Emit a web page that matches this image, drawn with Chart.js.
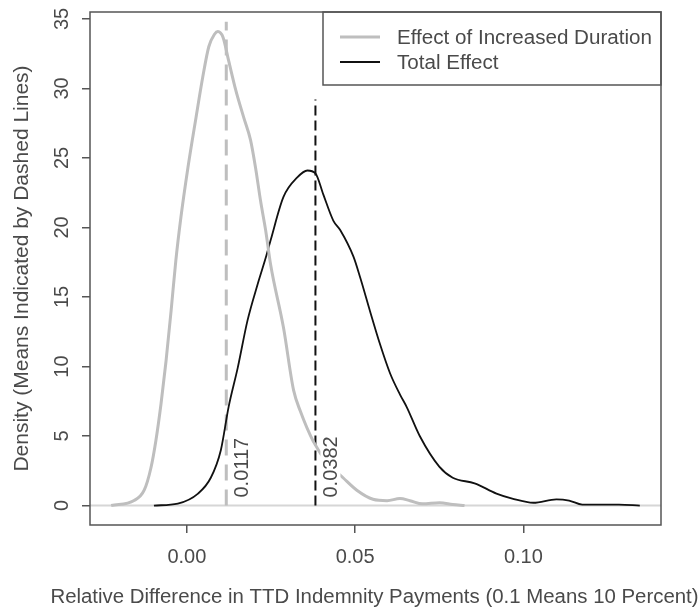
<!DOCTYPE html>
<html>
<head>
<meta charset="utf-8">
<script src="https://cdn.jsdelivr.net/npm/chart.js@4/dist/chart.umd.min.js"></script>
<style>
  body { margin: 0; background: #fff; }
  #wrap { width: 699px; height: 608px; }
</style>
</head>
<body>
<div id="wrap"><canvas id="density-chart"></canvas></div>
<script>
// density of the effect of increased duration (gray)
const durX = [-0.0225, -0.0157, -0.0127, -0.0107, -0.0092, -0.0077, -0.0062, -0.0047, -0.0033, -0.0018,
  0.0003, 0.0027, 0.0047, 0.0065, 0.0082, 0.0092, 0.0107, 0.0124, 0.0145, 0.0169,
  0.0189, 0.0204, 0.0219, 0.0234, 0.0249, 0.0287, 0.0317, 0.0337, 0.0376, 0.0420,
  0.0464, 0.0505, 0.0553, 0.0595, 0.0633, 0.0663, 0.0700, 0.0751, 0.0790, 0.0825];
const durY = [0, 0.36, 1.1, 2.7, 4.7, 7.3, 10.4, 14.0, 17.6, 20.7,
  24.3, 27.9, 30.8, 33.0, 33.9, 34.1, 33.7, 32.0, 29.9, 27.9,
  26.3, 24.3, 21.9, 19.8, 17.3, 12.8, 8.3, 6.8, 4.6, 3.0,
  2.0, 1.1, 0.45, 0.35, 0.5, 0.35, 0.12, 0.2, 0.08, 0];

// density of the total effect (black)
const totX = [-0.0098, -0.0027, 0.0033, 0.0071, 0.0101, 0.0124, 0.0151, 0.0180, 0.0210, 0.0234,
  0.0249, 0.0287, 0.0328, 0.0358, 0.0382, 0.0405, 0.0435, 0.0456, 0.0495, 0.0515,
  0.0544, 0.0574, 0.0604, 0.0633, 0.0653, 0.0692, 0.0750, 0.0790, 0.0855, 0.0920,
  0.0967, 0.1030, 0.1098, 0.1136, 0.1175, 0.1284, 0.1346];
const totY = [0, 0.14, 0.86, 2.0, 4.0, 7.1, 9.9, 13.3, 15.9, 17.8,
  19.1, 22.2, 23.6, 24.1, 23.9, 22.4, 20.5, 19.8, 17.9, 16.4,
  14.0, 11.6, 9.5, 8.0, 7.1, 5.0, 2.8, 2.0, 1.6, 0.86,
  0.5, 0.2, 0.45, 0.36, 0.07, 0.07, 0];

// means and the heights of the dashed lines
const means = [0.0117, 0.0382];
const meanTops = [34.8, 29.2];

const seriesNames = ['Effect of Increased Duration', 'Total Effect'];
const xTicks = [0, 0.05, 0.10];
const xTickLabels = ['0.00', '0.05', '0.10'];
const yTicks = [0, 5, 10, 15, 20, 25, 30, 35];

const xTitle = 'Relative Difference in TTD Indemnity Payments (0.1 Means 10 Percent)';
const yTitle = 'Density (Means Indicated by Dashed Lines)';

const GRAY = '#bebebe';
const INK = '#4a4a4a';
const FONT = 'Liberation Sans, Arial, sans-serif';

function toPoints(xs, ys) {
  return xs.map((x, i) => ({ x: x, y: ys[i] }));
}

// R-like decorations: zero line, box, rotated y labels, mean labels, legend, x title
const rStyle = {
  id: 'rStyle',
  beforeDatasetsDraw(chart) {
    const { ctx, chartArea: a, scales: { y } } = chart;
    const y0 = y.getPixelForValue(0);
    ctx.save();
    ctx.strokeStyle = '#d6d6d6';
    ctx.lineWidth = 2;
    ctx.beginPath();
    ctx.moveTo(a.left, y0);
    ctx.lineTo(a.right, y0);
    ctx.stroke();
    ctx.restore();
  },
  afterDatasetsDraw(chart) {
    const { ctx, chartArea: a, scales: { x, y } } = chart;
    ctx.save();
    ctx.font = '20px ' + FONT;
    ctx.fillStyle = INK;

    // mean labels, rotated, on white
    means.forEach(m => {
      const txt = m.toFixed(4);
      const w = ctx.measureText(txt).width;
      const px = x.getPixelForValue(m) + 15;
      const py = y.getPixelForValue(0) - 8;
      ctx.save();
      ctx.translate(px, py);
      ctx.rotate(-Math.PI / 2);
      ctx.fillStyle = '#fff';
      ctx.fillRect(-2, -10, w + 4, 20);
      ctx.fillStyle = INK;
      ctx.textAlign = 'left';
      ctx.textBaseline = 'middle';
      ctx.fillText(txt, 0, 1);
      ctx.restore();
    });

    // y tick labels, rotated like R's default
    yTicks.forEach(v => {
      ctx.save();
      ctx.translate(a.left - 28, y.getPixelForValue(v));
      ctx.rotate(-Math.PI / 2);
      ctx.textAlign = 'center';
      ctx.textBaseline = 'middle';
      ctx.fillText(String(v), 0, 0);
      ctx.restore();
    });

    // x title
    ctx.save();
    ctx.translate((a.left + a.right) / 2 - 1, 603);
    ctx.scale(1.02, 1);
    ctx.textAlign = 'center';
    ctx.textBaseline = 'alphabetic';
    ctx.fillText(xTitle, 0, 0);
    ctx.restore();

    // legend
    const lx = a.right - 338, ly = a.top, lw = 338, lh = 73;
    ctx.fillStyle = '#fff';
    ctx.fillRect(lx, ly, lw, lh);
    ctx.strokeStyle = '#555';
    ctx.lineWidth = 1.5;
    ctx.strokeRect(lx, ly, lw, lh);
    const colors = [GRAY, '#111'];
    const widths = [3, 2];
    seriesNames.forEach((name, i) => {
      const iy = ly + 25 + i * 25;
      ctx.strokeStyle = colors[i];
      ctx.lineWidth = widths[i];
      ctx.beginPath();
      ctx.moveTo(lx + 17, iy);
      ctx.lineTo(lx + 57, iy);
      ctx.stroke();
      ctx.save();
      ctx.translate(lx + 74, iy + 1);
      ctx.scale(1.03, 1);
      ctx.fillStyle = INK;
      ctx.textAlign = 'left';
      ctx.textBaseline = 'middle';
      ctx.fillText(name, 0, 0);
      ctx.restore();
    });

    // plot box
    ctx.strokeStyle = '#555';
    ctx.lineWidth = 1.5;
    ctx.strokeRect(a.left, a.top, a.right - a.left, a.bottom - a.top);
    ctx.restore();
  }
};

const ctx = document.getElementById('density-chart').getContext('2d');
new Chart(ctx, {
  type: 'scatter',
  data: {
    datasets: [
      {
        label: seriesNames[0],
        data: toPoints(durX, durY),
        showLine: true,
        borderColor: GRAY,
        borderWidth: 3,
        pointRadius: 0,
        cubicInterpolationMode: 'monotone'
      },
      {
        label: seriesNames[1],
        data: toPoints(totX, totY),
        showLine: true,
        borderColor: '#111',
        borderWidth: 1.8,
        pointRadius: 0,
        cubicInterpolationMode: 'monotone'
      },
      {
        label: 'mean duration',
        data: [{ x: means[0], y: 0 }, { x: means[0], y: meanTops[0] }],
        showLine: true,
        borderColor: GRAY,
        borderWidth: 3,
        borderDash: [16, 9],
        pointRadius: 0
      },
      {
        label: 'mean total',
        data: [{ x: means[1], y: 0 }, { x: means[1], y: meanTops[1] }],
        showLine: true,
        borderColor: '#111',
        borderWidth: 2,
        borderDash: [10, 5],
        pointRadius: 0
      }
    ]
  },
  options: {
    responsive: true,
    maintainAspectRatio: false,
    animation: false,
    layout: { padding: { left: 0, top: 12, right: 38, bottom: 0 } },
    plugins: {
      legend: { display: false },
      tooltip: { enabled: false }
    },
    scales: {
      x: {
        type: 'linear',
        min: -0.0288,
        max: 0.1409,
        afterBuildTicks: s => { s.ticks = xTicks.map(v => ({ value: v })); },
        afterFit: s => { s.height = 83; },
        border: { display: false },
        grid: { drawOnChartArea: false, drawTicks: true, tickLength: 8, color: '#555', lineWidth: 1.5 },
        ticks: {
          autoSkip: false,
          maxRotation: 0,
          padding: 12,
          color: INK,
          font: { family: FONT, size: 20 },
          callback: (v, i) => xTickLabels[i]
        },
        title: { display: false }
      },
      y: {
        type: 'linear',
        min: -1.4,
        max: 35.5,
        afterBuildTicks: s => { s.ticks = yTicks.map(v => ({ value: v })); },
        afterFit: s => { s.width = 90; },
        border: { display: false },
        grid: { drawOnChartArea: false, drawTicks: true, tickLength: 8, color: '#555', lineWidth: 1.5 },
        ticks: { display: false },
        title: {
          display: true,
          text: yTitle,
          color: INK,
          font: { family: FONT, size: 21 },
          padding: { top: 10, bottom: 0 }
        }
      }
    }
  },
  plugins: [rStyle]
});
</script>
</body>
</html>
